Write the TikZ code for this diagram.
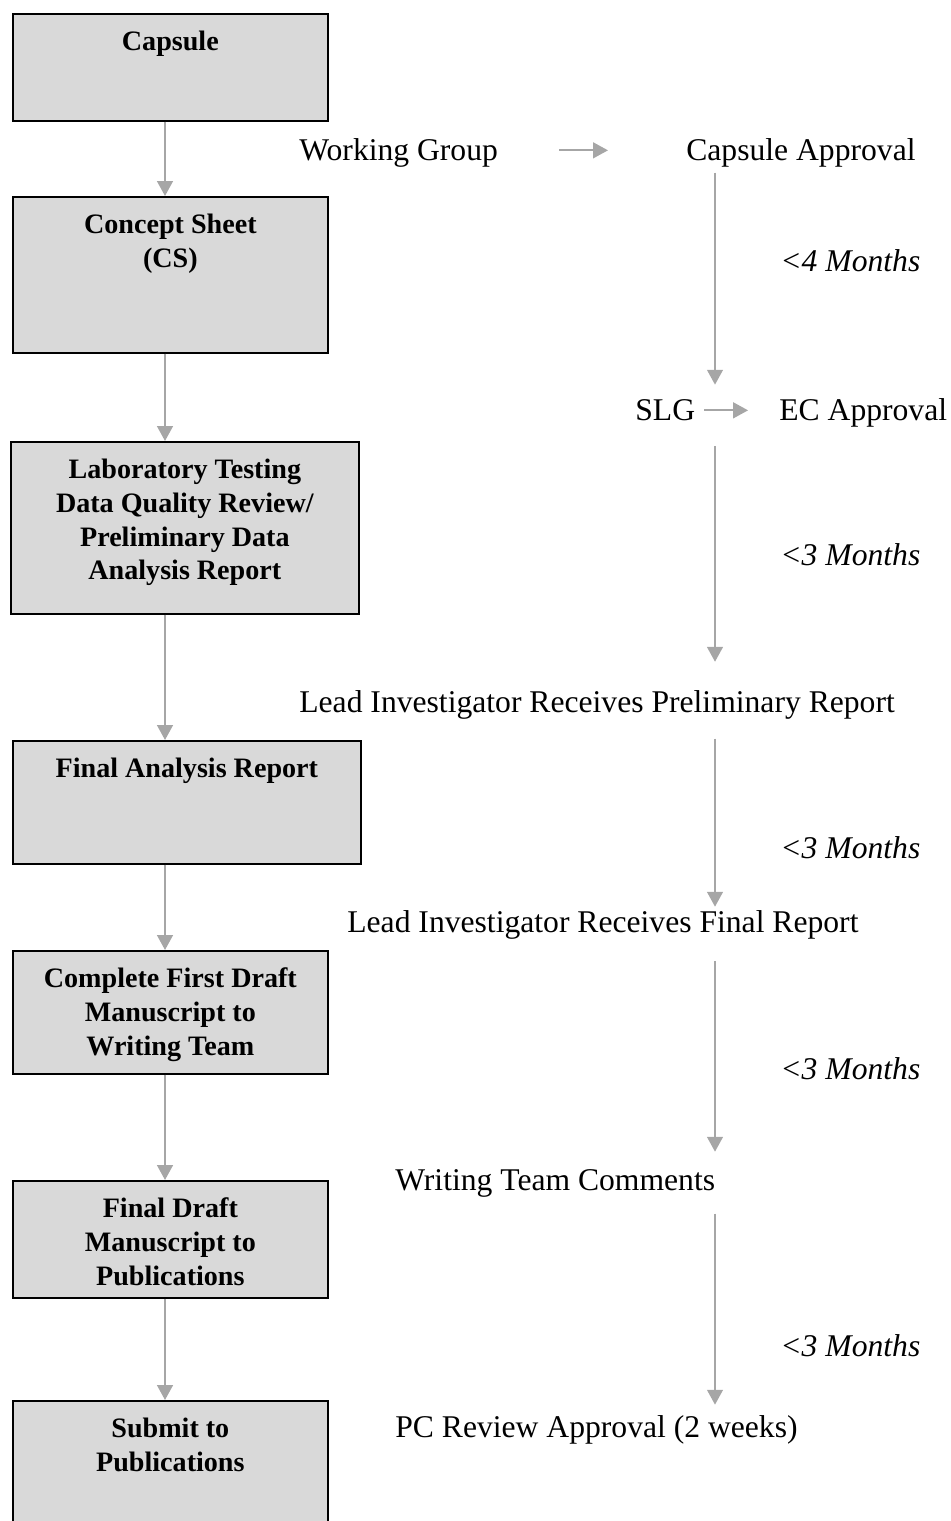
\documentclass[tikz,border=0pt]{standalone}
\usepackage{fontspec}
\setmainfont{Liberation Serif}
\usetikzlibrary{positioning, arrows.meta}
\definecolor{boxgray}{HTML}{D9D9D9}
\definecolor{arrgray}{HTML}{A6A6A6}

\begin{document}
\begin{tikzpicture}[x=0.02cm, y=-0.02cm]

% --- Styles ---
\tikzset{
    stagebox/.style={rectangle, draw=black, line width=1pt, fill=boxgray, anchor=north west, inner sep=0pt},
    stagetext/.style={anchor=north, align=center, inner sep=0pt, font=\bfseries\fontsize{16}{19.3}\selectfont},
    steptext/.style={anchor=base west, inner sep=0pt, text height=14pt, text depth=3pt, font=\fontsize{18}{21.6}\selectfont},
    flow/.style={draw=arrgray, line width=1.1pt, -{Triangle[width=9pt, length=8.5pt]}},
}

\clip (0,0) rectangle (950,1521);
\coordinate (lcol) at (165,0);
\coordinate (rcol) at (715,0);

% --- Left column: stages ---
\node[stagebox, minimum width=6.30cm, minimum height=2.14cm] (capsule) at (12,13) {};
\node[stagetext, below=7.5pt of capsule.north] (capsulet) {\strut Capsule};

\node[stagebox, minimum width=6.30cm, minimum height=3.12cm] (concept) at (12,196) {};
\node[stagetext, below=7.5pt of concept.north] (conceptt) {\strut Concept Sheet\\(CS)};

\node[stagebox, minimum width=6.96cm, minimum height=3.44cm] (labtest) at (10,441) {};
\node[stagetext, below=7.5pt of labtest.north] (labtestt) {\strut Laboratory Testing\\Data Quality Review/\\Preliminary Data\\Analysis Report};

\node[stagebox, minimum width=6.96cm, minimum height=2.46cm] (finalrep) at (12,740) {};
\node[stagetext, below=7.5pt of finalrep.north] (finalrept) {\strut Final Analysis Report};

\node[stagebox, minimum width=6.30cm, minimum height=2.46cm] (firstdraft) at (12,950) {};
\node[stagetext, below=7.5pt of firstdraft.north] (firstdraftt) {\strut Complete First Draft\\Manuscript to\\Writing Team};

\node[stagebox, minimum width=6.30cm, minimum height=2.34cm] (finaldraft) at (12,1180) {};
\node[stagetext, below=7.5pt of finaldraft.north] (finaldraftt) {\strut Final Draft\\Manuscript to\\Publications};

\node[stagebox, minimum width=6.30cm, minimum height=2.80cm] (submit) at (12,1400) {};
\node[stagetext, below=7.5pt of submit.north] (submitt) {\strut Submit to\\Publications};

% --- Right column: approvals and timing ---
\node[steptext] (wg) at (299,160) {Working Group};
\node[steptext] (capappr) at (686,160) {Capsule Approval};
\node[steptext] (mon1) at (780,271) {\itshape <4 Months};
\node[steptext] (slg) at (635,420) {SLG};
\node[steptext] (ec) at (779,420) {EC Approval};
\node[steptext] (mon2) at (780,565) {\itshape <3 Months};
\node[steptext] (leadpre) at (299,712) {Lead Investigator Receives Preliminary Report};
\node[steptext] (mon3) at (780,858) {\itshape <3 Months};
\node[steptext] (leadfin) at (347,932) {Lead Investigator Receives Final Report};
\node[steptext] (mon4) at (780,1079) {\itshape <3 Months};
\node[steptext] (wtc) at (395,1190) {Writing Team Comments};
\node[steptext] (mon5) at (780,1356) {\itshape <3 Months};
\node[steptext] (pcrev) at (395,1437) {PC Review Approval (2 weeks)};

% --- Arrows, left ---
\draw[flow] (capsule.south -| lcol) -- (concept.north -| lcol);
\draw[flow] (concept.south -| lcol) -- (labtest.north -| lcol);
\draw[flow] (labtest.south -| lcol) -- (finalrep.north -| lcol);
\draw[flow] (finalrep.south -| lcol) -- (firstdraft.north -| lcol);
\draw[flow] (firstdraft.south -| lcol) -- (finaldraft.north -| lcol);
\draw[flow] (finaldraft.south -| lcol) -- (submit.north -| lcol);

% --- Arrows, right ---
\draw[flow, shorten <=34.7pt, shorten >=44.4pt] (wg.east) -- (capappr.west);
\draw[flow, shorten <=5pt, shorten >=17.6pt] (slg.east) -- (ec.west);
\draw[flow, shorten <=4pt, shorten >=5.9pt] (capappr.south -| rcol) -- (slg.north -| rcol);
\draw[flow, shorten <=11.5pt, shorten >=14.4pt] (ec.south -| rcol) -- (leadpre.north -| rcol);
\draw[flow, shorten <=12pt, shorten >=0.2pt] (leadpre.south -| rcol) -- (leadfin.north -| rcol);
\draw[flow, shorten <=13.2pt, shorten >=7.6pt] (leadfin.south -| rcol) -- (wtc.north -| rcol);
\draw[flow, shorten <=10.3pt, shorten >=4.2pt] (wtc.south -| rcol) -- (pcrev.north -| rcol);

\end{tikzpicture}
\end{document}
